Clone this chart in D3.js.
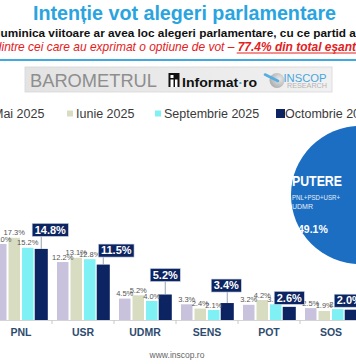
<!DOCTYPE html>
<html>
<head>
<meta charset="utf-8">
<script src="https://cdn.jsdelivr.net/npm/d3@7"></script>
<style>
  html, body { margin: 0; padding: 0; background: #ffffff; }
  svg { display: block; font-family: "Liberation Sans", Arial, sans-serif; }
</style>
</head>
<body>
<svg id="chart" width="356" height="364"></svg>
<script>
// ---- data ----
const categories = ["PNL", "USR", "UDMR", "SENS", "POT", "SOS"];
const seriesNames = ["Mai 2025", "Iunie 2025", "Septembrie 2025", "Octombrie 2025"];
const mai2025 = [16.0, 12.2, 4.5, 3.3, 3.2, 2.5];
const iunie2025 = [17.3, 13.1, 5.2, 2.4, 4.2, 1.9];
const septembrie2025 = [15.2, 12.8, 4.0, 2.1, 3.3, 2.3];
const octombrie2025 = [14.8, 11.5, 5.2, 3.4, 2.6, 2.0];
const puterePct = 49.1;
const titleText = "Intenție vot alegeri parlamentare";
const questionText = "Dacă duminica viitoare ar avea loc alegeri parlamentare, cu ce partid ați vota?";
const noteText1 = "(dintre cei care au exprimat o optiune de vot – ";
const noteText2 = "77.4% din total eşantion";
const noteText3 = ")";

// ---- layout / style ----
const colors = ["#c8c2dc", "#d8ddc2", "#7ff1f4", "#0c2461"];
const navy = "#0c2461";
const baseY = 320;
// per-category nudges of the navy callout boxes (px)
const calloutDx = [9, 13, 0, -1, 0, -2];
const calloutGap = [12.5, 7.5, 13, 11, 2.5, 2.5];

const svg = d3.select("#chart");
svg.append("rect").attr("width", 356).attr("height", 364).attr("fill", "#fff");

// ---- header ----
svg.append("text")
  .attr("x", 33).attr("y", 19.5)
  .attr("font-size", 19.5).attr("font-weight", "bold")
  .attr("fill", "#2aa4df")
  .attr("textLength", 303).attr("lengthAdjust", "spacingAndGlyphs")
  .text(titleText);

// question line (cut on both sides like the reference)
const q = svg.append("text").attr("y", 37).attr("font-size", 12)
  .attr("font-weight", "bold").attr("fill", "#111").text(questionText);
{
  const n = q.node();
  const i0 = 6, i1 = questionText.indexOf("ați") + 1;
  const w = n.getSubStringLength(i0, i1 - i0);
  const fs = 12 * 356 / w;
  q.attr("font-size", fs);
  const pre = n.getSubStringLength(0, i0);
  q.attr("x", 0.5 - pre);
}

// note line
const nt = svg.append("text").attr("y", 51).attr("font-size", 12)
  .attr("font-style", "italic").attr("fill", "#e3211c");
nt.append("tspan").text(noteText1);
nt.append("tspan").attr("font-weight", "bold").text(noteText2);
nt.append("tspan").text(noteText3);
{
  const n = nt.node();
  const full = noteText1 + noteText2 + noteText3;
  const i0 = 2, i1 = noteText1.length + noteText2.indexOf("ş") + 4;
  const w = n.getSubStringLength(i0, i1 - i0);
  const fs = 12 * 355 / w;
  nt.attr("font-size", fs);
  const pre = n.getSubStringLength(0, i0);
  nt.attr("x", 1.5 - pre);
  const s = noteText1.length;
  const x0 = n.getStartPositionOfChar(s).x;
  const x1 = n.getEndPositionOfChar(s + noteText2.length - 1).x;
  svg.append("line").attr("x1", x0 - 1).attr("x2", x1).attr("y1", 53).attr("y2", 53)
    .attr("stroke", "#e3211c").attr("stroke-width", 1);
}

svg.append("line").attr("x1", 0).attr("x2", 356).attr("y1", 60).attr("y2", 60)
  .attr("stroke", "#3fa9e0").attr("stroke-width", 2);

// ---- logo banner ----
const defs = svg.append("defs");
const lg = defs.append("linearGradient").attr("id", "banner").attr("x1", 0).attr("x2", 1).attr("y1", 0).attr("y2", 0);
lg.append("stop").attr("offset", 0).attr("stop-color", "#e3e3e3");
lg.append("stop").attr("offset", 1).attr("stop-color", "#f1f1f1");
const rg = defs.append("radialGradient").attr("id", "ball").attr("cx", 0.65).attr("cy", 0.4).attr("r", 0.7);
rg.append("stop").attr("offset", 0).attr("stop-color", "#e8e8e8");
rg.append("stop").attr("offset", 1).attr("stop-color", "#a9a9a9");

svg.append("rect").attr("x", 25).attr("y", 67).attr("width", 307).attr("height", 25)
  .attr("fill", "url(#banner)").attr("stroke", "#d6d6d6").attr("stroke-width", 0.8);
svg.append("text").attr("x", 30).attr("y", 87).attr("font-size", 19)
  .attr("fill", "#8e8e8e").attr("textLength", 127).attr("lengthAdjust", "spacingAndGlyphs")
  .text("BAROMETRUL");
svg.append("rect").attr("x", 168.5).attr("y", 73).attr("width", 11).attr("height", 14).attr("fill", "#111");
svg.append("rect").attr("x", 170.5).attr("y", 75).attr("width", 3).attr("height", 3).attr("fill", "#fff");
svg.append("rect").attr("x", 170.5).attr("y", 79.5).attr("width", 3).attr("height", 7.5).attr("fill", "#fff");
svg.append("rect").attr("x", 175).attr("y", 79.5).attr("width", 2.5).attr("height", 7.5).attr("fill", "#fff");
const inf = svg.append("text").attr("x", 182).attr("y", 87).attr("font-size", 12.5)
  .attr("font-weight", "bold").attr("fill", "#111")
  .attr("textLength", 75).attr("lengthAdjust", "spacingAndGlyphs");
inf.append("tspan").text("Informat");
inf.append("tspan").attr("fill", "#3fa9e0").text("·");
inf.append("tspan").text("ro");
svg.append("circle").attr("cx", 277).attr("cy", 80.5).attr("r", 7.5).attr("fill", "url(#ball)");
svg.append("line").attr("x1", 265).attr("y1", 74.5).attr("x2", 278).attr("y2", 81)
  .attr("stroke", "#56ade1").attr("stroke-width", 2.6).attr("stroke-linecap", "round");
svg.append("text").attr("x", 283.5).attr("y", 81.5).attr("font-size", 10.5)
  .attr("fill", "#48a6dc").attr("textLength", 43).attr("lengthAdjust", "spacingAndGlyphs")
  .text("INSCOP");
svg.append("text").attr("x", 287).attr("y", 87.5).attr("font-size", 6.5)
  .attr("fill", "#b5b5b5").attr("textLength", 40).attr("lengthAdjust", "spacingAndGlyphs")
  .text("RESEARCH");

// ---- legend ----
const legendX = [-16, 67, 155, 276];
const legendSize = [6, 6, 6, 9];
const leg = svg.append("g").selectAll("g").data(seriesNames).join("g")
  .attr("transform", (d, i) => `translate(${legendX[i]},0)`);
leg.append("rect")
  .attr("x", 0)
  .attr("y", (d, i) => 113.5 - legendSize[i] / 2)
  .attr("width", (d, i) => legendSize[i]).attr("height", (d, i) => legendSize[i])
  .attr("fill", (d, i) => colors[i]);
leg.append("text").attr("x", 9).attr("y", 118).attr("font-size", 12.5)
  .attr("fill", "#3a3a3a").text(d => d);

// ---- chart ----
const seriesValues = [mai2025, iunie2025, septembrie2025, octombrie2025];
const rows = categories.map((c, ci) => ({
  cat: c,
  vals: seriesNames.map((s, si) => ({ s, si, v: seriesValues[si][ci], cat: c, ci }))
}));

const x0 = d3.scaleBand().domain(categories).range([-10, -10 + 62 * categories.length])
  .paddingInner(0).paddingOuter(0);
const x1 = d3.scaleBand().domain(seriesNames).range([5, 57]).paddingInner(0.15).paddingOuter(0);
const y = d3.scaleLinear().domain([0, 20]).range([baseY, baseY - 95]);
const fmt = v => d3.format(".1f")(v) + "%";

const groups = svg.append("g").selectAll("g").data(rows).join("g")
  .attr("transform", d => `translate(${x0(d.cat)},0)`);

groups.selectAll("rect").data(d => d.vals).join("rect")
  .attr("x", d => x1(d.s))
  .attr("y", d => y(d.v))
  .attr("width", x1.bandwidth())
  .attr("height", d => y(0) - y(d.v))
  .attr("fill", d => colors[d.si])
  .attr("stroke", d => d.si === 3 ? navy : "none")
  .attr("stroke-width", d => d.si === 3 ? 1.6 : 0);

// small grey value labels (first three series)
groups.selectAll("text.val").data(d => d.vals.filter(v => v.si < 3)).join("text")
  .attr("class", "val")
  .attr("x", d => x1(d.s) + x1.bandwidth() / 2)
  .attr("y", d => y(d.v) - 2.5)
  .attr("text-anchor", "middle")
  .attr("font-size", 7.5)
  .attr("fill", "#555")
  .text(d => fmt(d.v));

// x axis
const axis = svg.append("g").attr("transform", `translate(0,${baseY})`)
  .call(d3.axisBottom(x0).tickSize(0).tickFormat(""));
axis.select(".domain").attr("stroke", "#d4d4d4");
svg.append("g").selectAll("line").data(categories.slice(1)).join("line")
  .attr("x1", d => x0(d)).attr("x2", d => x0(d))
  .attr("y1", baseY).attr("y2", baseY + 4)
  .attr("stroke", "#c8c8c8");

svg.append("g").selectAll("text").data(categories).join("text")
  .attr("x", d => x0(d) + x0.bandwidth() / 2)
  .attr("y", 335.5)
  .attr("text-anchor", "middle")
  .attr("font-size", 10.5).attr("font-weight", "bold")
  .attr("fill", "#2e4b6e")
  .text(d => d);

// navy callouts for latest series
const latest = rows.map(r => r.vals[3]);
const callouts = svg.append("g").selectAll("g").data(latest).join("g");
callouts.each(function (d) {
  const g = d3.select(this);
  const bx = x0(d.cat) + x1(d.s) + x1.bandwidth() / 2;
  const top = y(d.v) - 0.8;
  const cx = bx + calloutDx[d.ci];
  const bottom = top - calloutGap[d.ci];
  const t = g.append("text")
    .attr("font-size", 11).attr("font-weight", "bold").attr("fill", "#fff")
    .attr("text-anchor", "middle")
    .text(fmt(d.v));
  const w = t.node().getComputedTextLength() + 5;
  const h = 13;
  if (calloutGap[d.ci] > 4) {
    const lx = Math.max(cx - w / 2 + 3, Math.min(cx + w / 2 - 3, bx));
    g.insert("line", "text").attr("x1", bx).attr("y1", top).attr("x2", lx).attr("y2", bottom)
      .attr("stroke", "#7f8a99").attr("stroke-width", 0.8);
  }
  g.insert("rect", "text").attr("x", cx - w / 2).attr("y", bottom - h)
    .attr("width", w).attr("height", h).attr("fill", navy)
    .attr("stroke", "#c9d3e3").attr("stroke-width", 0.6);
  t.attr("x", cx).attr("y", bottom - 2.8);
});

// ---- PUTERE bubble ----
svg.append("circle").attr("cx", 360).attr("cy", 195).attr("r", 69).attr("fill", "#1b6ec2");
svg.append("text").attr("x", 292).attr("y", 185.5).attr("font-size", 14)
  .attr("font-weight", "bold").attr("fill", "#fff")
  .attr("textLength", 50).attr("lengthAdjust", "spacingAndGlyphs").text("PUTERE");
svg.append("text").attr("x", 292).attr("y", 199.5).attr("font-size", 7)
  .attr("fill", "#e6eef8").attr("textLength", 48).attr("lengthAdjust", "spacingAndGlyphs")
  .text("PNL+PSD+USR+");
svg.append("text").attr("x", 292).attr("y", 209).attr("font-size", 7)
  .attr("fill", "#e6eef8").text("UDMR");
svg.append("text").attr("x", 298).attr("y", 233).attr("font-size", 10.5)
  .attr("font-weight", "bold").attr("fill", "#fff").text(fmt(puterePct));

// footer
svg.append("text").attr("x", 177).attr("y", 358).attr("text-anchor", "middle")
  .attr("font-size", 8.5).attr("fill", "#666").text("www.inscop.ro");
</script>
</body>
</html>
